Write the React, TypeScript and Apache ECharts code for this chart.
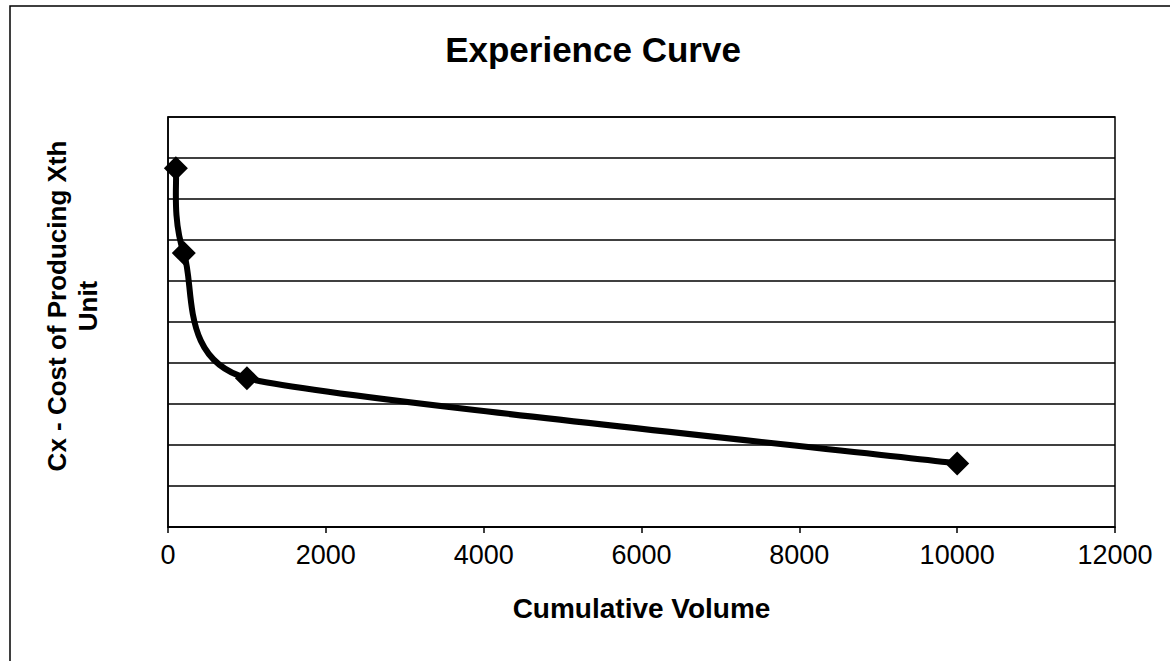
import React, { useEffect, useRef } from "react";
import * as echarts from "echarts";

// Cumulative volume (units produced) and cost of producing the Xth unit
const volumes = [100, 200, 1000, 10000];
const unitCosts = [87.5, 66.8, 36.3, 15.5];
const xTicks = { min: 0, max: 12000, interval: 2000 };
const yTicks = { min: 0, max: 100, interval: 10 };

const chartTitle = "Experience Curve";
const xAxisTitle = "Cumulative Volume";
const yAxisTitle = "Cx - Cost of Producing Xth\nUnit";

const FONT = '"Liberation Sans", Arial, Helvetica, sans-serif';

type Pt = number[];

// Bezier control points for a smoothed line: Catmull-Rom tangents (1/6 of the
// chord between neighbours), shortened to at most half of the shorter
// adjacent segment so the curve does not overshoot.
function controlPoints(pts: Pt[], i: number): { before: Pt; after: Pt } {
  const p = pts[i];
  const prev = pts[i - 1];
  const next = pts[i + 1];
  if (!prev || !next) {
    const other = prev || next;
    const dx = (other[0] - p[0]) / 6;
    const dy = (other[1] - p[1]) / 6;
    return { before: [p[0] + dx, p[1] + dy], after: [p[0] + dx, p[1] + dy] };
  }
  let vx = (next[0] - prev[0]) / 6;
  let vy = (next[1] - prev[1]) / 6;
  const len = Math.hypot(vx, vy);
  const limit = Math.min(
    Math.hypot(p[0] - prev[0], p[1] - prev[1]),
    Math.hypot(next[0] - p[0], next[1] - p[1])
  ) / 2;
  if (len > limit && len > 0) {
    vx *= limit / len;
    vy *= limit / len;
  }
  return { before: [p[0] - vx, p[1] - vy], after: [p[0] + vx, p[1] + vy] };
}

export default function App() {
  const ref = useRef<HTMLDivElement>(null);

  useEffect(() => {
    if (!ref.current) return;
    const chart = echarts.init(ref.current, null, { renderer: "svg" });
    const points = volumes.map((v, i) => [v, unitCosts[i]]);

    chart.setOption({
      animation: false,
      backgroundColor: "#ffffff",
      grid: { left: 168, top: 117, width: 947, height: 410, show: true, borderColor: "#000", borderWidth: 1.5 },
      xAxis: {
        type: "value",
        min: xTicks.min,
        max: xTicks.max,
        interval: xTicks.interval,
        name: xAxisTitle,
        nameLocation: "middle",
        nameGap: 67,
        nameTextStyle: { color: "#000", fontFamily: FONT, fontWeight: "bold", fontSize: 28 },
        axisLine: { show: true, lineStyle: { color: "#000", width: 1.5 } },
        axisTick: { show: true, inside: false, length: 6, lineStyle: { color: "#000", width: 1.5 } },
        axisLabel: {
          color: "#000",
          fontFamily: FONT,
          fontSize: 27,
          margin: 14,
          formatter: (v: number) => String(v),
        },
        splitLine: { show: false },
      },
      yAxis: {
        type: "value",
        min: yTicks.min,
        max: yTicks.max,
        interval: yTicks.interval,
        axisLine: { show: true, lineStyle: { color: "#000", width: 1.5 } },
        axisTick: { show: false },
        axisLabel: { show: false },
        splitLine: { show: true, lineStyle: { color: "#000", width: 1.5 } },
      },
      series: [
        {
          // smoothed cost curve, one Bezier segment per pair of points
          type: "custom",
          coordinateSystem: "cartesian2d",
          data: points,
          silent: true,
          z: 4,
          renderItem: (params: any, api: any) => {
            const i = params.dataIndex;
            if (i >= points.length - 1) return null;
            const px = points.map((p) => api.coord(p));
            const a = controlPoints(px, i).after;
            const b = controlPoints(px, i + 1).before;
            return {
              type: "bezierCurve",
              shape: {
                x1: px[i][0],
                y1: px[i][1],
                cpx1: a[0],
                cpy1: a[1],
                cpx2: b[0],
                cpy2: b[1],
                x2: px[i + 1][0],
                y2: px[i + 1][1],
              },
              style: { stroke: "#000", lineWidth: 6, fill: null, lineCap: "round" },
            };
          },
        },
        {
          type: "scatter",
          data: points,
          symbol: "diamond",
          symbolSize: 24,
          itemStyle: { color: "#000", opacity: 1 },
          z: 5,
        },
      ],
      graphic: [
        {
          type: "rect",
          shape: { x: 10, y: 6, width: 1200, height: 700 },
          style: { fill: "none", stroke: "#000", lineWidth: 1.5 },
          silent: true,
          z: -1,
        },
        {
          type: "text",
          x: 593,
          y: 49,
          style: {
            text: chartTitle,
            align: "center",
            verticalAlign: "middle",
            fill: "#000",
            font: `bold 35px ${FONT}`,
          },
        },
        {
          type: "text",
          x: 72,
          y: 306,
          rotation: Math.PI / 2,
          style: {
            text: yAxisTitle,
            align: "center",
            verticalAlign: "middle",
            fill: "#000",
            font: `bold 26px ${FONT}`,
            lineHeight: 31,
          },
        },
      ],
    });

    return () => chart.dispose();
  }, []);

  return (
    <div
      ref={ref}
      style={{ position: "fixed", left: 0, top: 0, width: 1170, height: 661, background: "#fff" }}
    />
  );
}
